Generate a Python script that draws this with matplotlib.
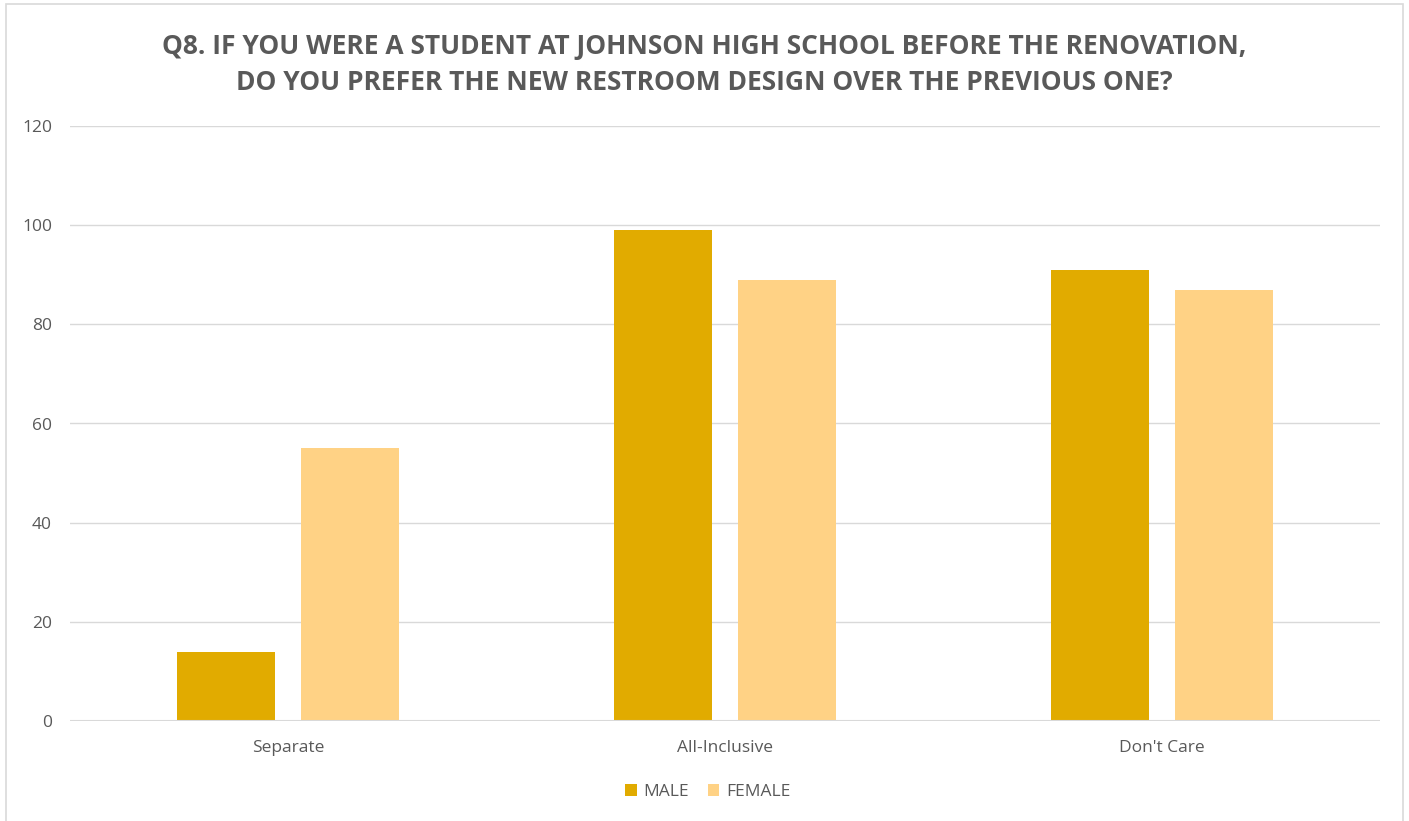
import matplotlib
matplotlib.use("Agg")
import matplotlib.pyplot as plt
import numpy as np
from matplotlib.patches import Rectangle

categories = ["Separate", "All-Inclusive", "Don't Care"]
male = [14, 99, 91]
female = [55, 89, 87]
series_names = ["MALE", "FEMALE"]
title = ("Q8. IF YOU WERE A STUDENT AT JOHNSON HIGH SCHOOL BEFORE THE RENOVATION,\n"
         "DO YOU PREFER THE NEW RESTROOM DESIGN OVER THE PREVIOUS ONE?")

plt.rcParams['font.family'] = ['Open Sans', 'DejaVu Sans']

fig = plt.figure(figsize=(14.09, 8.21), dpi=100)
ax = fig.add_axes([70/1409, 100/821, 1310/1409, 595/821])

x = np.arange(len(categories))
w = 0.224
off = 0.142
ax.bar(x - off, male, w, color="#E1AB00", label=series_names[0], zorder=3)
ax.bar(x + off, female, w, color="#FFD285", label=series_names[1], zorder=3)

ax.set_xlim(-0.5, 2.5)
ax.set_ylim(0, 120)
ax.set_yticks(range(0, 121, 20))
ax.grid(axis='y', color="#D9D9D9", linewidth=1.0, zorder=0)
ax.set_xticks(x)
ax.set_xticklabels(categories)
for s in ax.spines.values():
    s.set_visible(False)
ax.axhline(0, color="#D9D9D9", linewidth=1.5, zorder=4)
ax.tick_params(axis='both', length=0, labelsize=12.5, labelcolor="#595959")
ax.tick_params(axis='y', pad=13)
ax.tick_params(axis='x', pad=14)

fig.text(0.5, 1 - 64.5/821, title, ha='center', va='center', fontsize=19,
         fontweight='bold', color="#595959", linespacing=1.42)

leg = fig.legend(loc='center', bbox_to_anchor=(708/1409, 1 - 792/821), ncol=2,
                 frameon=False, fontsize=12.5, handlelength=0.65, handleheight=0.65,
                 handletextpad=0.4, columnspacing=1.1)
for t in leg.get_texts():
    t.set_color("#595959")

fig.patches.append(Rectangle((6/1409, -0.01), 1397/1409, 1 - 4/821 + 0.01,
                             transform=fig.transFigure, fill=False,
                             edgecolor="#D9D9D9", linewidth=1.2))

fig.savefig("out.png", dpi=100, facecolor="white")
